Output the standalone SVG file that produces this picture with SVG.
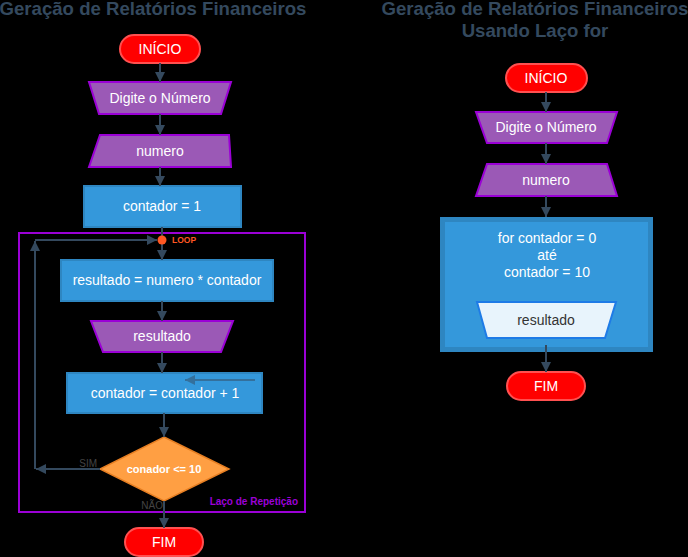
<svg xmlns="http://www.w3.org/2000/svg" width="688" height="557" viewBox="0 0 688 557">
<style>
.title{font-family:"Liberation Sans",Arial,sans-serif;font-size:18.6px;font-weight:bold;fill:#34495e;text-anchor:middle}
.t{font-family:"Liberation Sans",Arial,sans-serif;font-size:14px;fill:#ffffff;text-anchor:middle}
.term{fill:#ff0000;stroke:#ff5050;stroke-width:2}
.io{fill:#9b59b6;stroke:#9b00d6;stroke-width:2}
.proc{fill:#3498db;stroke:#2e86c1;stroke-width:2}
.conn line{stroke:#34495e;stroke-width:2;marker-end:url(#ah)}
.lbl{font-family:"Liberation Sans",Arial,sans-serif;font-size:10px;fill:#444}
</style>
<defs>
<marker id="ah" markerUnits="userSpaceOnUse" markerWidth="10" markerHeight="10" refX="10" refY="5" orient="auto">
<path d="M0,0 L10,5 L0,10 z" fill="#34495e"/>
</marker>
</defs>
<rect x="0" y="0" width="688" height="557" fill="#000"/>
<text class="title" x="153" y="15">Geração de Relatórios Financeiros</text>
<text class="title" x="535" y="15">Geração de Relatórios Financeiros</text>
<text class="title" x="535" y="37">Usando Laço for</text>

<g id="loop-container">
<rect x="19" y="233" width="286" height="279" fill="none" stroke="#9b00d6" stroke-width="2"/>
<text x="298" y="505" text-anchor="end" style="font-family:'Liberation Sans',Arial,sans-serif;font-size:10px;font-weight:bold;fill:#9b00d6">Laço de Repetição</text>
</g>

<g id="inicio1"><rect class="term" x="120" y="35" width="80" height="28" rx="14"/><text class="t" x="160" y="54">INÍCIO</text></g>
<g id="digite1"><polygon class="io" points="89,82 231,82 221,114 99,114"/><text class="t" x="160" y="103">Digite o Número</text></g>
<g id="numero1"><polygon class="io" points="100,135 229,135 231,167 89,167"/><text class="t" x="160" y="156">numero</text></g>
<g id="contador1"><rect class="proc" x="84" y="186" width="157" height="41"/><text class="t" x="162" y="211">contador = 1</text></g>
<g id="resultadoCalc"><rect class="proc" x="61" y="260" width="212" height="41"/><text class="t" x="167" y="285">resultado = numero * contador</text></g>
<g id="resultadoOut"><polygon class="io" points="91,321 233,321 221,352 103,352"/><text class="t" x="162" y="341">resultado</text></g>
<g id="incremento"><rect class="proc" x="67" y="373" width="195" height="40"/><text class="t" x="165" y="398">contador = contador + 1</text></g>
<g id="decisao"><polygon points="164,437 229,469 164,501 100,469" fill="#ff9f43" stroke="#e67e22" stroke-width="1.5"/><text x="164" y="473" text-anchor="middle" style="font-family:'Liberation Sans',Arial,sans-serif;font-size:11px;font-weight:bold;fill:#fff">conador &lt;= 10</text></g>
<g id="fim1"><rect class="term" x="125" y="528" width="78" height="28" rx="14"/><text class="t" x="164" y="547">FIM</text></g>

<g id="inicio2"><rect class="term" x="506" y="64" width="81" height="28" rx="14"/><text class="t" x="546" y="83">INÍCIO</text></g>
<g id="digite2"><polygon class="io" points="476,112 617,112 607,143 487,143"/><text class="t" x="546" y="132">Digite o Número</text></g>
<g id="numero2"><polygon class="io" points="487,164 607,164 617,196 476,196"/><text class="t" x="546" y="185">numero</text></g>
<g id="forloop">
<rect x="442.5" y="219.5" width="208" height="130" fill="#3498db" stroke="#2e86c1" stroke-width="5"/>
<text class="t" x="547" y="243">for contador = 0</text>
<text class="t" x="547" y="260">até</text>
<text class="t" x="547" y="277">contador = 10</text>
<polygon points="477,302 616,302 605,338 487,338" fill="#e8f4fc" stroke="#1e7be6" stroke-width="2"/>
<text class="t" x="546" y="325" style="fill:#333">resultado</text>
</g>
<g id="fim2"><rect class="term" x="507" y="372" width="78" height="28" rx="14"/><text class="t" x="546" y="391">FIM</text></g>

<g id="connectors" class="conn">
<line x1="160" y1="63" x2="160" y2="82"/>
<line x1="160" y1="114" x2="160" y2="135"/>
<line x1="160" y1="167" x2="160" y2="186"/>
<line x1="162" y1="227" x2="162" y2="260"/>
<line x1="162" y1="301" x2="162" y2="321"/>
<line x1="162" y1="352" x2="162" y2="373"/>
<line x1="164" y1="413" x2="164" y2="437"/>
<line x1="164" y1="501" x2="164" y2="528"/>
<line x1="100" y1="469" x2="36" y2="469"/>
<line x1="35" y1="469" x2="35" y2="241"/>
<line x1="35" y1="240" x2="157" y2="240"/>
<line x1="255" y1="380" x2="185" y2="380" opacity="0.5"/>
<line x1="546" y1="92" x2="546" y2="112"/>
<line x1="546" y1="143" x2="546" y2="164"/>
<line x1="546" y1="196" x2="546" y2="217"/>
<line x1="546" y1="345" x2="546" y2="372"/>
</g>
<g id="loop-point">
<circle cx="162" cy="240" r="4.5" fill="#ff5722"/>
<text x="172" y="243" style="font-family:'Liberation Sans',Arial,sans-serif;font-size:8.5px;font-weight:bold;fill:#ff5722">LOOP</text>
</g>
<text class="lbl" x="97" y="467" text-anchor="end">SIM</text>
<text class="lbl" x="163" y="509" text-anchor="end">NÃO</text>
</svg>
